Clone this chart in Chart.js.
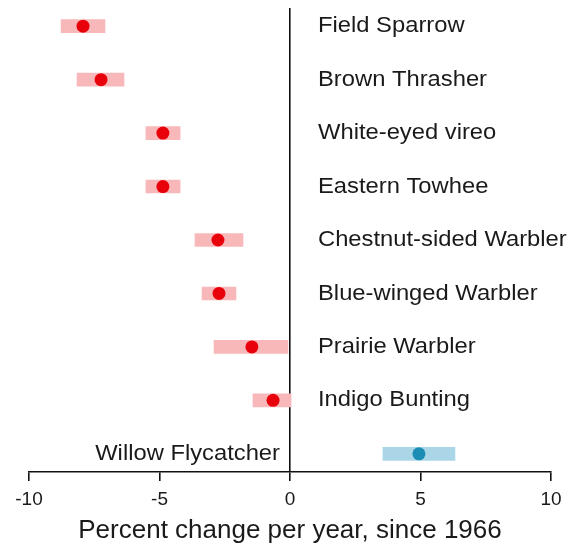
<!DOCTYPE html>
<html>
<head>
<meta charset="utf-8">
<script src="https://cdn.jsdelivr.net/npm/chart.js@4"></script>
<style>
  html, body { margin: 0; padding: 0; background: #fff; }
  #wrap { width: 575px; height: 548px; }
</style>
</head>
<body>
<div id="wrap"><canvas id="chart" width="575" height="548"></canvas></div>
<script>
// --- DATA ---
const species = [
  'Field Sparrow', 'Brown Thrasher', 'White-eyed vireo', 'Eastern Towhee',
  'Chestnut-sided Warbler', 'Blue-winged Warbler', 'Prairie Warbler',
  'Indigo Bunting', 'Willow Flycatcher'
];
const estimate = [-7.93, -7.24, -4.87, -4.87, -2.76, -2.72, -1.46, -0.65, 4.94];
const lower    = [-8.77, -8.16, -5.52, -5.52, -3.64, -3.37, -2.91, -1.42, 3.56];
const upper    = [-7.09, -6.36, -4.21, -4.21, -1.80, -2.07, -0.08,  0.04, 6.32];
const xTicks = [-10, -5, 0, 5, 10];

// --- COLORS ---
const barColor = v => v < 0 ? '#f8b8ba' : '#aad6e8';
const dotColor = v => v < 0 ? '#e8000a' : '#1c8db5';

Chart.defaults.font.family = 'Arial, "Liberation Sans", sans-serif';
Chart.defaults.color = '#1a1a1a';

// species names next to the zero line (text slightly widened, like the source)
const nameLabels = {
  id: 'nameLabels',
  afterDatasetsDraw(chart) {
    const { ctx, scales: { x, y } } = chart;
    const x0 = x.getPixelForValue(0);
    const sx = 1.08;
    ctx.save();
    ctx.font = '22px Arial, "Liberation Sans", sans-serif';
    ctx.fillStyle = '#1a1a1a';
    ctx.textBaseline = 'middle';
    species.forEach((name, i) => {
      const py = y.getPixelForValue(i);
      ctx.save();
      if (estimate[i] < 0) {
        ctx.translate(x0 + 28, py);
        ctx.textAlign = 'left';
      } else {
        ctx.translate(x0 - 10, py);
        ctx.textAlign = 'right';
      }
      ctx.scale(sx, 1);
      ctx.fillText(name, 0, 0);
      ctx.restore();
    });
    ctx.restore();
  }
};

const ctx = document.getElementById('chart').getContext('2d');
new Chart(ctx, {
  type: 'bar',
  data: {
    datasets: [
      {
        type: 'scatter',
        data: estimate.map((v, i) => ({ x: v, y: i })),
        pointRadius: 6.5,
        pointBackgroundColor: estimate.map(dotColor),
        pointBorderWidth: 0
      },
      {
        type: 'bar',
        indexAxis: 'y',
        data: lower.map((lo, i) => ({ x: [lo, upper[i]], y: i })),
        backgroundColor: estimate.map(barColor),
        barThickness: 13,
        borderWidth: 0
      }
    ]
  },
  options: {
    responsive: false,
    animation: false,
    layout: { padding: { left: 29, right: 24, top: 8, bottom: 0 } },
    plugins: { legend: { display: false }, tooltip: { enabled: false } },
    scales: {
      x: {
        type: 'linear',
        min: -10, max: 10,
        offset: false,
        afterBuildTicks: axis => { axis.ticks = xTicks.map(v => ({ value: v })); },
        grid: {
          offset: false,
          color: c => (c.tick && c.tick.value === 0) ? '#111' : 'rgba(0,0,0,0)',
          tickColor: '#111',
          lineWidth: 1.6,
          tickLength: 9
        },
        border: { color: '#111', width: 1.4 },
        ticks: { font: { size: 19, lineHeight: 1 }, padding: 9, color: '#1a1a1a' },
        title: {
          display: true,
          text: 'Percent change per year, since 1966',
          font: { size: 26, lineHeight: 1 },
          color: '#1a1a1a',
          padding: { top: 0, bottom: 4 }
        }
      },
      y: {
        type: 'linear',
        reverse: true,
        offset: false,
        min: -0.34, max: 8.34,
        display: false
      }
    }
  },
  plugins: [nameLabels]
});
</script>
</body>
</html>
